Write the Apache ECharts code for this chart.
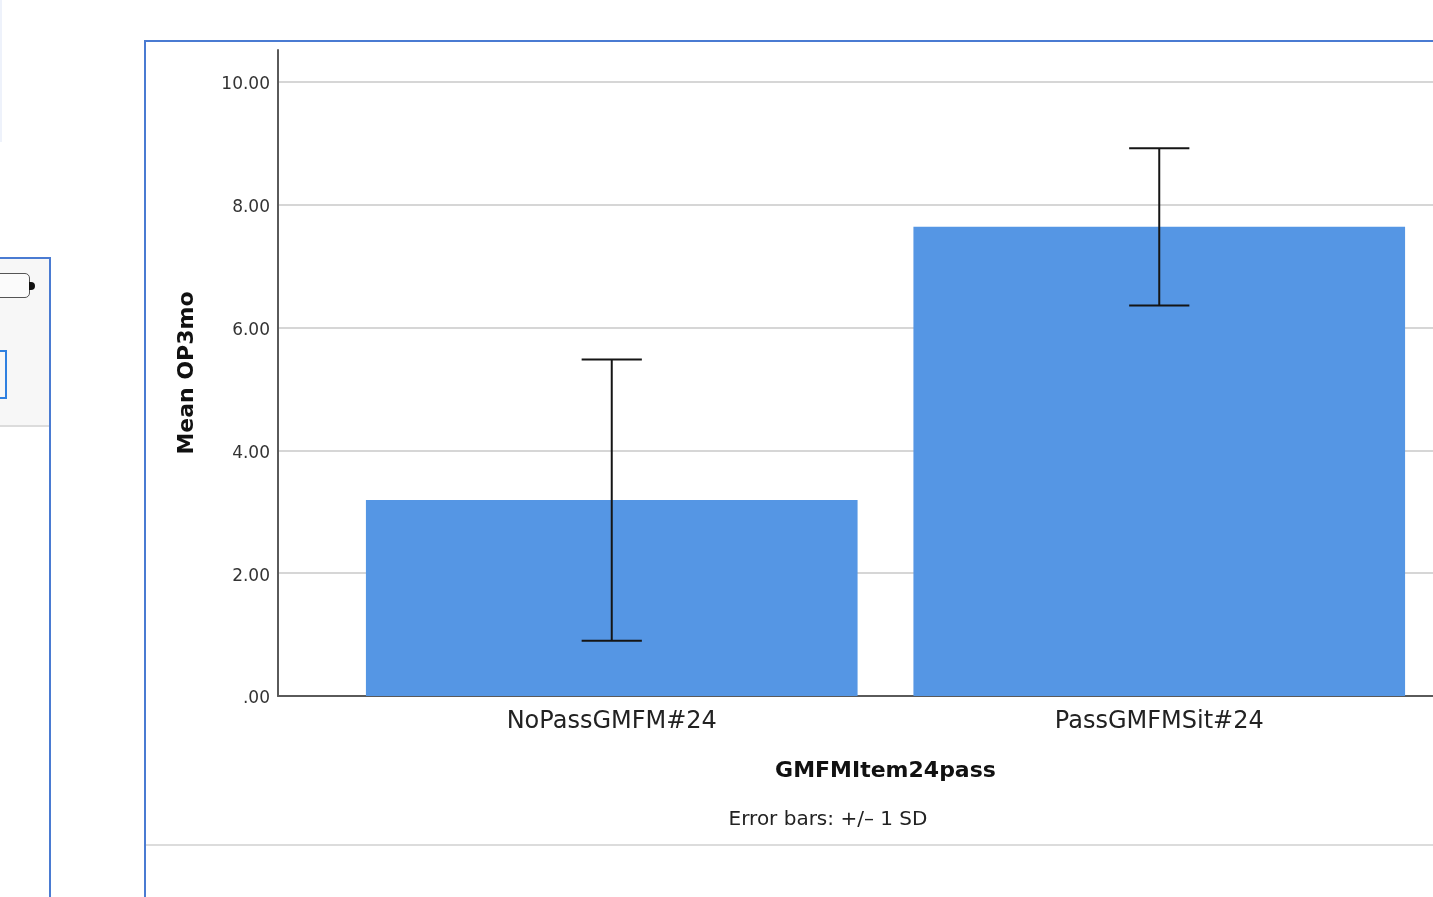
<!DOCTYPE html>
<html>
<head>
<meta charset="utf-8">
<script src="https://cdn.jsdelivr.net/npm/echarts@6/dist/echarts.min.js"></script>
<style>
  html, body { margin:0; padding:0; background:#fff; width:1433px; height:897px; overflow:hidden; position:relative; }
  .c { position:absolute; box-sizing:border-box; }
  #chart { position:absolute; left:0; top:0; width:1433px; height:897px; z-index:2; }
</style>
</head>
<body>
<!-- surrounding viewer chrome -->
<div class="c" style="left:0;top:0;width:2px;height:142px;background:#eef2fb;"></div>
<div class="c" style="left:0;top:257px;width:51px;height:640px;border-top:2px solid #4a7bd2;border-right:2px solid #4a7bd2;background:#fff;"></div>
<div class="c" style="left:0;top:259px;width:49px;height:168px;background:#f7f7f7;border-bottom:2px solid #dcdcdc;"></div>
<div class="c" style="left:-10px;top:273px;width:40px;height:25px;border:1.5px solid #555;border-radius:5px;background:#fbfbfb;"></div>
<div class="c" style="left:29px;top:282px;width:6px;height:8px;border-radius:0 4px 4px 0;background:#111;"></div>
<div class="c" style="left:-4px;top:350px;width:11px;height:49px;border:2px solid #2f80e0;"></div>
<div class="c" style="left:144px;top:40px;width:1400px;height:900px;border-left:2px solid #4a7bd2;border-top:2px solid #4a7bd2;"></div>
<div class="c" style="left:146px;top:844px;width:1300px;height:2px;background:#dcdcdc;"></div>
<div id="chart"></div>
<script>
const categories = ['NoPassGMFM#24', 'PassGMFMSit#24'];
const means = [3.19, 7.64];
const sds = [2.29, 1.28];
const yTicks = { min: 0, max: 10.52, interval: 2 };

const chart = echarts.init(document.getElementById('chart'), null, { renderer: 'canvas' });
const FONT = 'DejaVu Sans';
const gridLineColors = ['#d6d6d6','#d6d6d6','#d6d6d6','#d6d6d6','#d6d6d6','#d6d6d6','rgba(0,0,0,0)'];
const fmt = v => '{v|' + (v === 0 ? '.00' : v.toFixed(2)) + '}';

const errData = categories.map((c, i) => [i, means[i] - sds[i], means[i] + sds[i]]);

chart.setOption({
  backgroundColor: 'transparent',
  animation: false,
  title: {
    text: 'Error bars: +/\u2013 1 SD',
    left: 823, top: 805, textAlign: 'center',
    textStyle: { fontFamily: FONT, fontSize: 20, fontWeight: 'normal', color: '#222' }
  },
  grid: [
    { left: 278, width: 60, top: 50, bottom: 201 },
    { left: 338, width: 1099, top: 50, bottom: 201 }
  ],
  xAxis: [
    { gridIndex: 0, type: 'value', min: 0, max: 1,
      axisLine: { show: true, onZero: false, lineStyle: { color: '#5a5a5a', width: 2 } },
      axisTick: { show: false }, axisLabel: { show: false }, splitLine: { show: false } },
    { gridIndex: 1, type: 'category', data: categories,
      axisLine: { show: true, lineStyle: { color: '#5a5a5a', width: 2 } },
      axisTick: { show: false },
      axisLabel: { fontFamily: FONT, fontSize: 24, color: '#222', margin: 14 },
      name: 'GMFMItem24pass', nameLocation: 'middle', nameGap: 64,
      nameTextStyle: { fontFamily: FONT, fontSize: 22, fontWeight: 'bold', color: '#111' } }
  ],
  yAxis: [
    { gridIndex: 0, type: 'value', min: yTicks.min, max: yTicks.max, interval: yTicks.interval,
      axisLine: { show: true, lineStyle: { color: '#5a5a5a', width: 2 } },
      axisTick: { show: false },
      axisLabel: { fontFamily: FONT, fontSize: 17, color: '#333', margin: 8, formatter: fmt, showMaxLabel: false,
        rich: { v: { fontFamily: FONT, fontSize: 17, color: '#333', padding: [6, 0, 0, 0] } } },
      splitLine: { show: true, lineStyle: { color: gridLineColors, width: 2 } },
      name: 'Mean OP3mo', nameLocation: 'middle', nameGap: 80, nameRotate: 90,
      nameTextStyle: { fontFamily: FONT, fontSize: 22, fontWeight: 'bold', color: '#111' } },
    { gridIndex: 1, type: 'value', min: yTicks.min, max: yTicks.max, interval: yTicks.interval,
      axisLine: { show: false }, axisTick: { show: false }, axisLabel: { show: false },
      splitLine: { show: true, lineStyle: { color: gridLineColors, width: 2 } } }
  ],
  series: [
    { type: 'bar', xAxisIndex: 1, yAxisIndex: 1, data: means,
      barCategoryGap: '10.2%',
      itemStyle: { color: '#5596e4' }, z: 2 },
    { type: 'custom', xAxisIndex: 1, yAxisIndex: 1, data: errData, z: 5,
      renderItem: function (params, api) {
        const x = api.value(0);
        const lo = api.coord([x, api.value(1)]);
        const hi = api.coord([x, api.value(2)]);
        const half = api.size([1, 0])[0] * 0.055;
        const style = { stroke: '#151515', lineWidth: 2 };
        return { type: 'group', children: [
          { type: 'line', shape: { x1: hi[0], y1: hi[1], x2: lo[0], y2: lo[1] }, style },
          { type: 'line', shape: { x1: hi[0] - half, y1: hi[1], x2: hi[0] + half, y2: hi[1] }, style },
          { type: 'line', shape: { x1: lo[0] - half, y1: lo[1], x2: lo[0] + half, y2: lo[1] }, style }
        ]};
      } }
  ]
});
</script>
</body>
</html>
